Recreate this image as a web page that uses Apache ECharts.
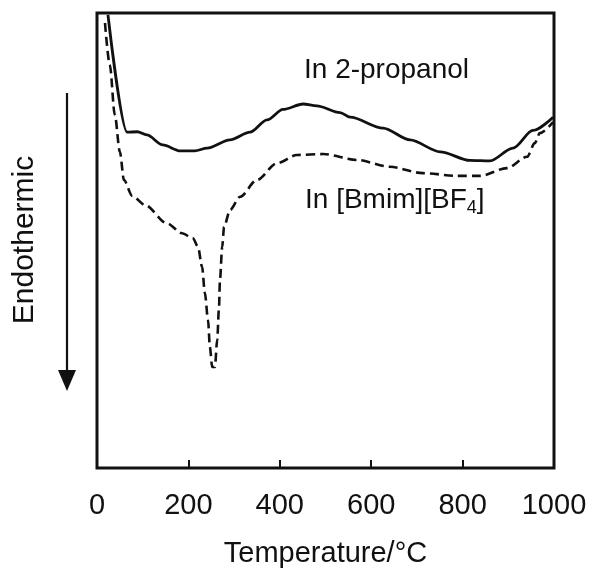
<!DOCTYPE html>
<html>
<head>
<meta charset="utf-8">
<script src="https://cdn.jsdelivr.net/npm/echarts@6/dist/echarts.min.js"></script>
<style>html,body{margin:0;padding:0;background:#fff;}#c{width:589px;height:568px;}</style>
</head>
<body>
<div id="c"></div>
<script>
// x tick labels
const xTicks = [0, 200, 400, 600, 800, 1000];
// In 2-propanol (solid)
const tempSolid = [24, 66, 88, 109, 144, 182, 214, 241, 291, 335, 372, 407, 451, 481, 532, 554, 626, 685, 751, 816, 860, 910, 954, 998];
const valSolid  = [99.6, 73.8, 73.9, 73.2, 71.0, 69.7, 69.7, 70.3, 72.1, 73.8, 76.5, 78.8, 80.0, 79.6, 78.1, 77.1, 74.7, 72.1, 69.5, 67.6, 67.5, 70.3, 74.2, 77.1];
// In [Bmim][BF4] (dashed)
const tempDash = [17.5, 28, 39, 50, 59, 77, 105, 153, 186, 210, 221, 230, 236, 243, 247, 252, 258, 263, 267, 269, 274, 278, 291, 313, 350, 394, 438, 495, 569, 641, 713, 788, 838, 897, 941, 958, 969, 998];
const valDash  = [97.8, 88.6, 77.6, 69.5, 63.3, 59.8, 57.8, 53.8, 51.6, 50.5, 48.6, 44.2, 38.5, 32.5, 26.6, 22.2, 22.2, 28.1, 35.4, 41.3, 48.6, 53.0, 56.7, 59.6, 63.3, 67.0, 68.8, 69.0, 67.7, 66.2, 64.8, 64.2, 64.2, 65.9, 68.4, 71.4, 73.6, 76.0];

const FONT = '"Liberation Sans", Arial, sans-serif';
const ink = '#111';
const chart = echarts.init(document.getElementById('c'), null, {renderer: 'canvas'});
const pairs = (xs, ys) => xs.map((x, i) => [x, ys[i]]);

chart.setOption({
  animation: false,
  backgroundColor: '#fff',
  grid: {left: 97, right: 35, top: 13, bottom: 100, containLabel: false, outerBoundsMode: 'none',
         show: true, borderColor: ink, borderWidth: 3, backgroundColor: 'transparent'},
  xAxis: {
    type: 'value', min: xTicks[0], max: xTicks[xTicks.length - 1], interval: 200,
    axisLine: {show: false},
    axisTick: {show: true, inside: true, length: 8, lineStyle: {color: ink, width: 2}},
    splitLine: {show: false},
    axisLabel: {color: ink, fontSize: 29, fontFamily: FONT, margin: 23,
      formatter: v => xTicks.indexOf(v) >= 0 ? String(v) : ''},
    name: 'Temperature/°C', nameLocation: 'middle', nameGap: 71,
    nameTextStyle: {color: ink, fontSize: 29, fontFamily: FONT}
  },
  yAxis: {
    type: 'value', min: 0, max: 100,
    axisLine: {show: false}, axisTick: {show: false}, axisLabel: {show: false}, splitLine: {show: false}
  },
  series: [
    {name: 'In 2-propanol', type: 'line', data: pairs(tempSolid, valSolid), showSymbol: false,
     smooth: 0.3, smoothMonotone: 'x', clip: true,
     lineStyle: {color: ink, width: 2.8}},
    {name: 'In [Bmim][BF4]', type: 'line', data: pairs(tempDash, valDash), showSymbol: false,
     smooth: 0.3, smoothMonotone: 'x', clip: true,
     lineStyle: {color: ink, width: 2.6, type: [9, 5]}}
  ],
  graphic: [
    {type: 'text', left: 304, top: 56, style: {text: 'In 2-propanol', fill: ink, font: '28px ' + FONT}},
    {type: 'text', left: 305, top: 186, style: {
      text: '{a|In [Bmim][BF}{s|4}{a|]}',
      rich: {
        a: {fontSize: 28, fontFamily: FONT, fill: ink, lineHeight: 34, verticalAlign: 'middle'},
        s: {fontSize: 18, fontFamily: FONT, fill: ink, lineHeight: 34, verticalAlign: 'bottom'}
      }}},
    {type: 'text', x: 25, y: 240, rotation: Math.PI / 2,
     style: {text: 'Endothermic', fill: ink, font: '30px ' + FONT, align: 'center', verticalAlign: 'middle'}},
    {type: 'line', shape: {x1: 67, y1: 93, x2: 67, y2: 375}, style: {stroke: ink, lineWidth: 2.2}},
    {type: 'polygon', shape: {points: [[58, 370], [76, 370], [67, 391]]}, style: {fill: ink}}
  ]
});
</script>
</body>
</html>
